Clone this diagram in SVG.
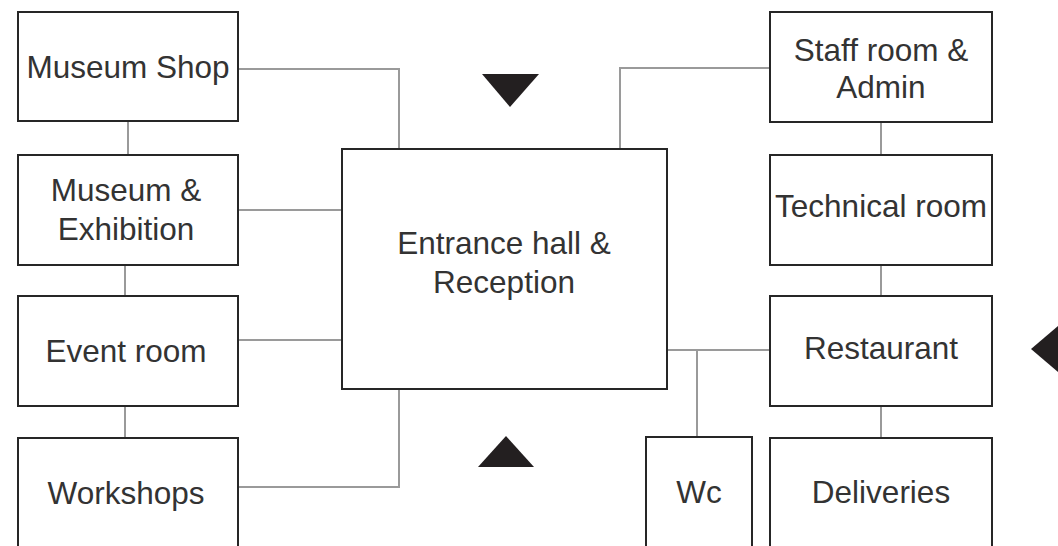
<svg xmlns="http://www.w3.org/2000/svg" width="1058" height="546" viewBox="0 0 1058 546">
  <style>
    .box { fill: #ffffff; stroke: #262626; stroke-width: 2; }
    .lbl { font-family: "Liberation Sans", Arial, sans-serif; font-size: 31.5px; fill: #333333; text-anchor: middle; }
    .link { fill: none; stroke: #9a9a9a; stroke-width: 2; }
    .mark { fill: #231f20; }
  </style>
  <rect width="1058" height="546" fill="#ffffff"/>

  <!-- connectors -->
  <g id="connectors">
    <polyline class="link" points="238,69 399,69 399,149"/>
    <line class="link" x1="128" y1="121" x2="128" y2="154"/>
    <line class="link" x1="238" y1="210" x2="342" y2="210"/>
    <line class="link" x1="125" y1="265" x2="125" y2="296"/>
    <line class="link" x1="238" y1="340" x2="342" y2="340"/>
    <line class="link" x1="125" y1="406" x2="125" y2="438"/>
    <polyline class="link" points="238,487 399,487 399,389"/>
    <polyline class="link" points="770,68 620,68 620,149"/>
    <line class="link" x1="881" y1="122" x2="881" y2="154"/>
    <line class="link" x1="881" y1="265" x2="881" y2="296"/>
    <line class="link" x1="667" y1="350" x2="770" y2="350"/>
    <line class="link" x1="697" y1="350" x2="697" y2="437"/>
    <line class="link" x1="881" y1="406" x2="881" y2="438"/>
  </g>

  <!-- rooms -->
  <g id="museum-shop">
    <rect class="box" x="18" y="12" width="220" height="109"/>
    <text class="lbl" x="128" y="78">Museum Shop</text>
  </g>
  <g id="museum-exhibition">
    <rect class="box" x="18" y="155" width="220" height="110"/>
    <text class="lbl" x="126" y="201">Museum &amp;</text>
    <text class="lbl" x="126" y="240">Exhibition</text>
  </g>
  <g id="event-room">
    <rect class="box" x="18" y="296" width="220" height="110"/>
    <text class="lbl" x="126" y="362">Event room</text>
  </g>
  <g id="workshops">
    <rect class="box" x="18" y="438" width="220" height="120"/>
    <text class="lbl" x="126" y="504">Workshops</text>
  </g>
  <g id="entrance-hall">
    <rect class="box" x="342" y="149" width="325" height="240"/>
    <text class="lbl" x="504" y="254">Entrance hall &amp;</text>
    <text class="lbl" x="504" y="293">Reception</text>
  </g>
  <g id="staff-room">
    <rect class="box" x="770" y="12" width="222" height="110"/>
    <text class="lbl" x="881" y="61">Staff room &amp;</text>
    <text class="lbl" x="881" y="98">Admin</text>
  </g>
  <g id="technical-room">
    <rect class="box" x="770" y="155" width="222" height="110"/>
    <text class="lbl" x="881" y="217">Technical room</text>
  </g>
  <g id="restaurant">
    <rect class="box" x="770" y="296" width="222" height="110"/>
    <text class="lbl" x="881" y="359">Restaurant</text>
  </g>
  <g id="deliveries">
    <rect class="box" x="770" y="438" width="222" height="120"/>
    <text class="lbl" x="881" y="503">Deliveries</text>
  </g>
  <g id="wc">
    <rect class="box" x="646" y="437" width="106" height="121"/>
    <text class="lbl" x="699" y="503">Wc</text>
  </g>

  <!-- entrance direction markers -->
  <polygon class="mark" points="482,74 539,74 510,107"/>
  <polygon class="mark" points="478,467 534,467 506,436"/>
  <polygon class="mark" points="1031,349 1064,321 1064,377"/>
</svg>
